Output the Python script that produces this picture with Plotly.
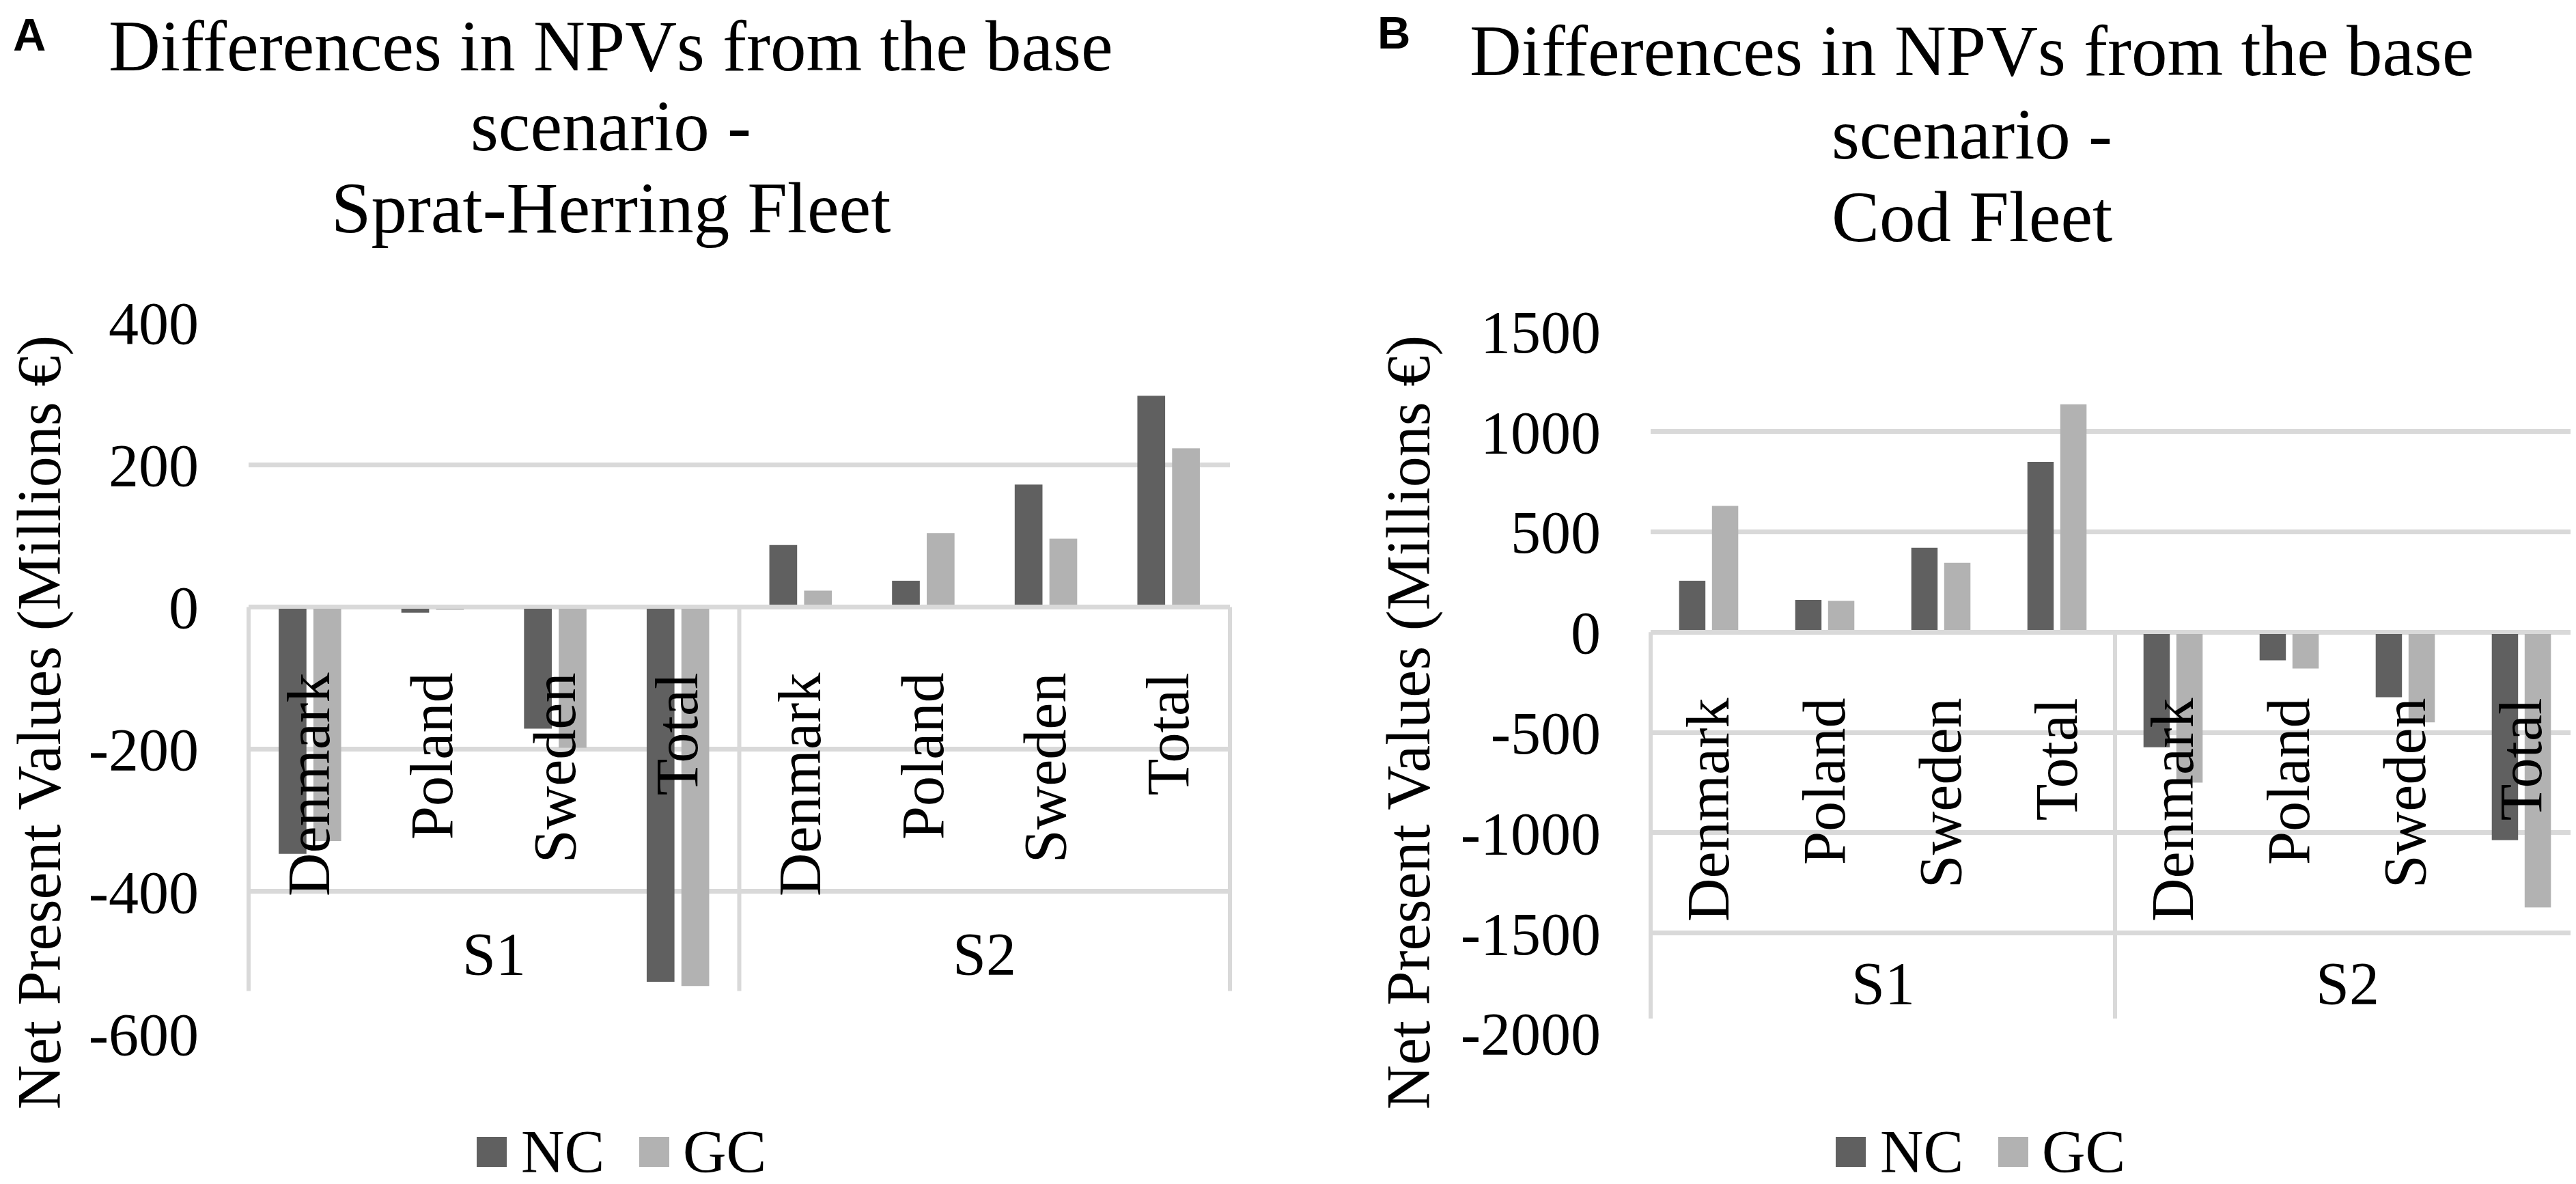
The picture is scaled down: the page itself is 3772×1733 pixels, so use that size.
import plotly.graph_objects as go

# ---------------- data ----------------
countries = ["Denmark", "Poland", "Sweden", "Total"]
scenarios = ["S1", "S2"]
series_names = ["NC", "GC"]

# Panel A: Sprat-Herring fleet (Millions EUR), order S1 x countries, S2 x countries
sprat_nc = [-347, -8, -171, -527, 87, 37, 172, 297]
sprat_gc = [-329, -4, -198, -533, 23, 104, 96, 223]

# Panel B: Cod fleet
cod_nc = [257, 161, 421, 849, -574, -140, -324, -1037]
cod_gc = [630, 156, 346, 1136, -750, -181, -449, -1372]

ticks_a = [400, 200, 0, -200, -400, -600]
ticks_b = [1500, 1000, 500, 0, -500, -1000, -1500, -2000]
tick_text_a = ["400", "200", "0", "-200", "-400", "-600"]
tick_text_b = ["1500", "1000", "500", "0", "-500", "-1000", "-1500", "-2000"]

title_a = ["Differences in NPVs from the base", "scenario -", "Sprat-Herring Fleet"]
title_b = ["Differences in NPVs from the base", "scenario -", "Cod Fleet"]
y_title = "Net Present Values (Millions €)"

# ---------------- styling ----------------
W, H = 3772, 1733
SERIF = "Liberation Serif"
SANS = "Liberation Sans"
C_NC = "#606060"
C_GC = "#b2b2b2"
GRID = "#d9d9d9"
FS = 88


def px(x):
    return x / W


def py(y):
    return 1 - y / H


x_keys = [f"{s} {c}" for s in scenarios for c in countries]
x_text = [c for s in scenarios for c in countries]

range_a = [-600, 400]
range_b = [-2000, 1500]
dom_xa = [px(356), px(1793)]
dom_xb = [px(2409), px(3769)]
dom_ya = [py(1505), py(464)]
dom_yb = [py(1504.5), py(477)]


def zero_pos(dom, rng):
    return dom[0] + (0 - rng[0]) / (rng[1] - rng[0]) * (dom[1] - dom[0])


fig = go.Figure()
for xa, ya, nc, gc in [("x", "y", sprat_nc, sprat_gc), ("x2", "y2", cod_nc, cod_gc)]:
    fig.add_trace(go.Bar(x=x_keys, y=nc, name=series_names[0], marker=dict(color=C_NC, line=dict(width=0)),
                         xaxis=xa, yaxis=ya, showlegend=False))
    fig.add_trace(go.Bar(x=x_keys, y=gc, name=series_names[1], marker=dict(color=C_GC, line=dict(width=0)),
                         xaxis=xa, yaxis=ya, showlegend=False))


def xaxis_cfg(dom, ydom, yrng):
    return dict(
        domain=dom, anchor="free", position=zero_pos(ydom, yrng), automargin=False,
        type="category", categoryorder="array", categoryarray=x_keys,
        tickmode="array", tickvals=x_keys, ticktext=x_text, tickangle=-90,
        tickfont=dict(family=SERIF, size=FS, color="black"),
        ticks="", ticklabelstandoff=58,
        showgrid=False, zeroline=False, showline=True, linecolor=GRID, linewidth=6,
        range=[-0.5, len(x_keys) - 0.5], fixedrange=True,
    )


def yaxis_cfg(dom, rng, tv, tt, anchor):
    return dict(
        domain=dom, anchor=anchor, range=rng, automargin=False,
        tickmode="array", tickvals=tv, ticktext=tt,
        tickfont=dict(family=SERIF, size=FS, color="black"),
        ticks="", ticklabelstandoff=72,
        showgrid=True, gridcolor=GRID, gridwidth=6.5,
        zeroline=False, showline=False, fixedrange=True,
    )


fig.update_layout(
    width=W, height=H,
    margin=dict(l=0, r=0, t=0, b=0, autoexpand=False),
    paper_bgcolor="white", plot_bgcolor="white",
    barmode="group", bargap=0.434, bargroupgap=0.2,
    xaxis=xaxis_cfg(dom_xa, dom_ya, range_a),
    yaxis=yaxis_cfg(dom_ya, range_a, ticks_a, tick_text_a, "x"),
    xaxis2=xaxis_cfg(dom_xb, dom_yb, range_b),
    yaxis2=yaxis_cfg(dom_yb, range_b, ticks_b, tick_text_b, "x2"),
    font=dict(family=SERIF, color="black"),
)

shapes = []
annotations = []

# category box dividers and group labels
for xr, yr, box_bottom, grp_y in [("x domain", "y", -540, -488), ("x2 domain", "y2", -1926, -1751)]:
    for xd in [0, 0.5, 1]:
        shapes.append(dict(type="line", xref=xr, yref=yr, x0=xd, x1=xd, y0=0, y1=box_bottom,
                           line=dict(color=GRID, width=6), layer="below"))
    for i, s in enumerate(scenarios):
        annotations.append(dict(xref=xr, yref=yr, x=0.25 + 0.5 * i, y=grp_y, text=s, showarrow=False,
                                xanchor="center", yanchor="middle",
                                font=dict(family=SERIF, size=FS, color="black")))

# titles (one annotation per line)
TFS = 105
for lines, cx, base in [(title_a, 886, [95, 212, 332]), (title_b, 2879, [102, 224, 345])]:
    for t, b in zip(lines, base):
        annotations.append(dict(xref="paper", yref="paper", x=px(cx), y=py(b - 0.3375 * TFS), text=t,
                                showarrow=False, xanchor="center", yanchor="middle",
                                font=dict(family=SERIF, size=TFS, color="black")))

# panel letters
for letter, lx, base in [("A", 9, 66), ("B", 2007, 63)]:
    annotations.append(dict(xref="paper", yref="paper", x=px(lx), y=py(base - 0.3465 * 67), text=f"<b>{letter}</b>",
                            showarrow=False, xanchor="left", yanchor="middle",
                            font=dict(family=SANS, size=67, color="black")))

# y-axis titles
for cx in [50, 2055]:
    annotations.append(dict(xref="paper", yref="paper", x=px(cx), y=py(1050), text=y_title, textangle=-90,
                            showarrow=False, xanchor="center", yanchor="middle",
                            font=dict(family=SERIF, size=90, color="black")))

# legends (drawn manually so the swatches match the large type)
for off in [0, 1990]:
    for (sx, tx), name, col in zip([(690, 753), (928, 990)], series_names, [C_NC, C_GC]):
        shapes.append(dict(type="rect", xref="paper", yref="paper",
                           x0=px(sx + off), x1=px(sx + off + 44), y0=py(1700), y1=py(1656),
                           fillcolor=col, line=dict(width=0)))
        annotations.append(dict(xref="paper", yref="paper", x=px(tx + off), y=py(1707 - 0.3375 * FS), text=name,
                                showarrow=False, xanchor="left", yanchor="middle",
                                font=dict(family=SERIF, size=FS, color="black")))

fig.update_layout(shapes=shapes, annotations=annotations)
fig.write_html("out.html")
